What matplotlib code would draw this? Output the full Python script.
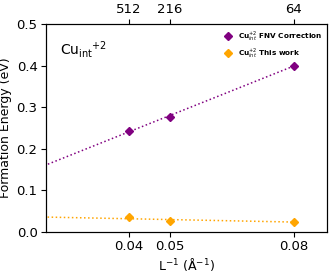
import numpy as np
import matplotlib
matplotlib.use("Agg")
import matplotlib.pyplot as plt

inv_L = [0.04, 0.05, 0.08]
n_atoms = ["512", "216", "64"]
fnv_energy = [0.243, 0.277, 0.400]
this_work_energy = [0.035, 0.026, 0.025]

fig = plt.figure(figsize=(3.33, 2.73), dpi=100)
ax = fig.add_axes([0.138, 0.150, 0.844, 0.762])

# linear extrapolation lines
x_fit = np.linspace(0.0, 0.08, 50)
p_fnv = np.polyfit(inv_L, fnv_energy, 1)
p_tw = np.polyfit(inv_L, this_work_energy, 1)
ax.plot(x_fit, np.polyval(p_fnv, x_fit), ':', color='purple', lw=1.1)
ax.plot(x_fit, np.polyval(p_tw, x_fit), ':', color='orange', lw=1.1)

ax.plot(inv_L, fnv_energy, 'D', color='purple', ms=4.5, ls='none',
        label=r'Cu$_{int}^{+2}$ FNV Correction')
ax.plot(inv_L, this_work_energy, 'D', color='orange', ms=4.5, ls='none',
        label=r'Cu$_{int}^{+2}$ This work')

ax.set_xlim(0.02, 0.088)
ax.set_ylim(0.0, 0.5)
ax.set_xticks(inv_L)
ax.set_xticklabels(["0.04", "0.05", "0.08"])
ax.set_yticks([0.0, 0.1, 0.2, 0.3, 0.4, 0.5])
ax.tick_params(labelsize=9.5, pad=2.5)
ax.set_xlabel(r'L$^{-1}$ ($\mathrm{\AA}^{-1}$)', fontsize=9, labelpad=2)
ax.set_ylabel('Formation Energy (eV)', fontsize=9, labelpad=3)

ax.text(0.05, 0.93, r'Cu$_{\mathrm{int}}$$^{+2}$', transform=ax.transAxes,
        fontsize=10, va='top', ha='left')

leg = ax.legend(loc='upper right', frameon=False, prop={'size': 5.2, 'weight': 'bold'},
                handletextpad=0.3, borderaxespad=0.3, labelspacing=0.45)

top = ax.twiny()
top.set_xlim(ax.get_xlim())
top.set_xticks(inv_L)
top.set_xticklabels(n_atoms)
top.tick_params(labelsize=9.5, pad=2.5)

fig.savefig("out.png", dpi=100)
